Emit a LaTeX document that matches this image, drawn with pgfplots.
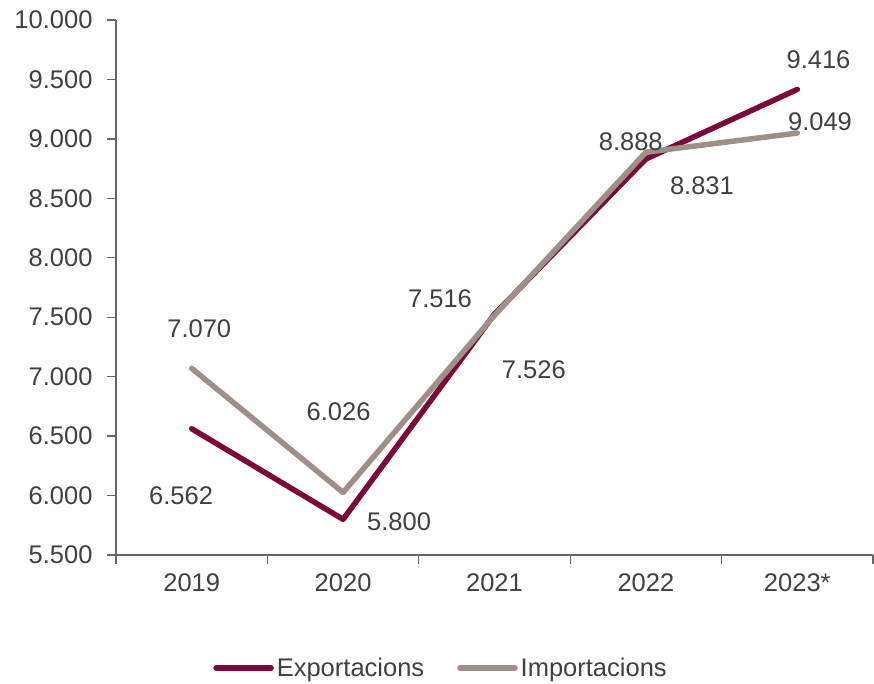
\documentclass[border=0pt]{standalone}
\usepackage{fontspec}
\setmainfont{Liberation Sans}
\usepackage{pgfplots}
\pgfplotsset{compat=1.18}
\definecolor{expc}{HTML}{7B0A3B}
\definecolor{impc}{HTML}{9E9088}
\definecolor{txt}{HTML}{404040}
\definecolor{axc}{HTML}{666666}
\begin{document}
\begin{tikzpicture}
\useasboundingbox (-116pt,-129pt) rectangle (758pt,555pt);
\begin{axis}[
  at={(0,0)}, anchor=south west,
  scale only axis, width=757pt, height=535pt,
  xmin=-0.5, xmax=4.5, ymin=5500, ymax=10000,
  axis lines=left, axis line style={draw=axc, line width=1.3pt, -},
  xtick={-0.5,0.5,1.5,2.5,3.5,4.5},
  x tick label as interval,
  xticklabels={2019,2020,2021,2022,2023*},
  ytick={5500,6000,...,10000},
  scaled y ticks=false,
  tick align=outside, major tick length=9pt,
  tick style={draw=axc, line width=1.3pt},
  /pgf/number format/assume math mode=true,
  /pgf/number format/.cd, fixed, 1000 sep={.}, /pgfplots/.cd,
  ticklabel style={font=\fontsize{25.5}{30}\selectfont, text=txt},
  yticklabel style={xshift=-11pt},
  xticklabel style={yshift=-6pt},
  clip=false,
  legend style={at={(0.430,-0.211)}, anchor=center, draw=none, fill=none,
    legend columns=2, font=\fontsize{25.5}{30}\selectfont, text=txt,
    /tikz/every even column/.append style={column sep=30pt},
    nodes={inner sep=3pt}},
  legend image code/.code={\draw[#1, line cap=round] (0pt,0pt) -- (55pt,0pt);},
  every axis plot/.append style={line width=5.5pt, line join=round, line cap=round},
]
\addplot[expc] coordinates {(0,6562) (1,5800) (2,7526) (3,8831) (4,9416)};
\addlegendentry{Exportacions}
\addplot[impc] coordinates {(0,7070) (1,6026) (2,7516) (3,8888) (4,9049)};
\addlegendentry{Importacions}
\begin{scope}[every node/.style={font=\fontsize{25.5}{30}\selectfont, text=txt}]
\node at (axis cs:0.05,7401) {7.070};
\node at (axis cs:-0.07,5996) {6.562};
\node at (axis cs:0.97,6703) {6.026};
\node at (axis cs:1.37,5778) {5.800};
\node at (axis cs:1.64,7653) {7.516};
\node at (axis cs:2.26,7056) {7.526};
\node at (axis cs:2.90,8974) {8.888};
\node at (axis cs:3.37,8604) {8.831};
\node at (axis cs:4.14,9664) {9.416};
\node at (axis cs:4.15,9142) {9.049};
\end{scope}
\end{axis}
\end{tikzpicture}
\end{document}
